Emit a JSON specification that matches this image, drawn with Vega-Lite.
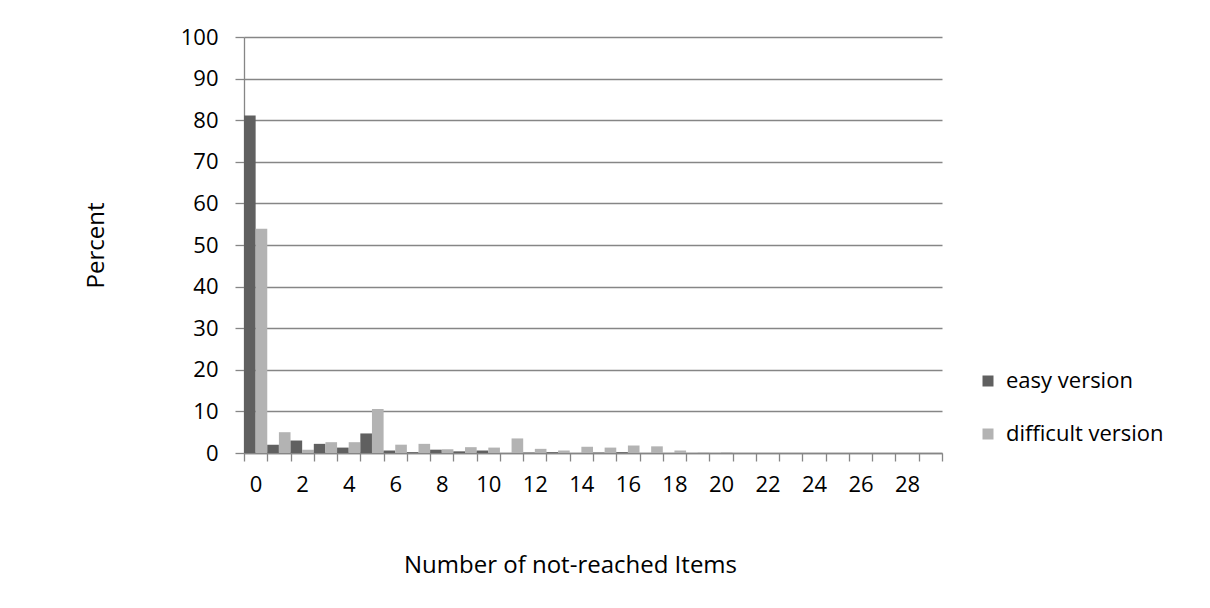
{
  "$schema": "https://vega.github.io/schema/vega-lite/v6.json",
  "width": 698,
  "height": 416,
  "autosize": "none",
  "padding": {"left": 244, "top": 37, "right": 268, "bottom": 155},
  "background": "white",
  "config": {
    "font": "Open Sans",
    "view": {"stroke": null}
  },
  "data": {
    "values": [
      {"n": 0, "version": "easy version", "pct": 81.1},
      {"n": 0, "version": "difficult version", "pct": 53.9},
      {"n": 1, "version": "easy version", "pct": 2.0},
      {"n": 1, "version": "difficult version", "pct": 5.0},
      {"n": 2, "version": "easy version", "pct": 3.0},
      {"n": 2, "version": "difficult version", "pct": 0.8},
      {"n": 3, "version": "easy version", "pct": 2.2},
      {"n": 3, "version": "difficult version", "pct": 2.6},
      {"n": 4, "version": "easy version", "pct": 1.3},
      {"n": 4, "version": "difficult version", "pct": 2.6},
      {"n": 5, "version": "easy version", "pct": 4.7},
      {"n": 5, "version": "difficult version", "pct": 10.6},
      {"n": 6, "version": "easy version", "pct": 0.6},
      {"n": 6, "version": "difficult version", "pct": 2.0},
      {"n": 7, "version": "easy version", "pct": 0.2},
      {"n": 7, "version": "difficult version", "pct": 2.2},
      {"n": 8, "version": "easy version", "pct": 0.8},
      {"n": 8, "version": "difficult version", "pct": 0.9},
      {"n": 9, "version": "easy version", "pct": 0.4},
      {"n": 9, "version": "difficult version", "pct": 1.4},
      {"n": 10, "version": "easy version", "pct": 0.6},
      {"n": 10, "version": "difficult version", "pct": 1.3},
      {"n": 11, "version": "easy version", "pct": 0},
      {"n": 11, "version": "difficult version", "pct": 3.5},
      {"n": 12, "version": "easy version", "pct": 0.1},
      {"n": 12, "version": "difficult version", "pct": 1.0},
      {"n": 13, "version": "easy version", "pct": 0.2},
      {"n": 13, "version": "difficult version", "pct": 0.6},
      {"n": 14, "version": "easy version", "pct": 0},
      {"n": 14, "version": "difficult version", "pct": 1.5},
      {"n": 15, "version": "easy version", "pct": 0.1},
      {"n": 15, "version": "difficult version", "pct": 1.3},
      {"n": 16, "version": "easy version", "pct": 0.2},
      {"n": 16, "version": "difficult version", "pct": 1.8},
      {"n": 17, "version": "easy version", "pct": 0},
      {"n": 17, "version": "difficult version", "pct": 1.6},
      {"n": 18, "version": "easy version", "pct": 0},
      {"n": 18, "version": "difficult version", "pct": 0.6},
      {"n": 19, "version": "easy version", "pct": 0},
      {"n": 19, "version": "difficult version", "pct": 0.1},
      {"n": 20, "version": "easy version", "pct": 0},
      {"n": 20, "version": "difficult version", "pct": 0.15},
      {"n": 21, "version": "easy version", "pct": 0},
      {"n": 21, "version": "difficult version", "pct": 0},
      {"n": 22, "version": "easy version", "pct": 0},
      {"n": 22, "version": "difficult version", "pct": 0},
      {"n": 23, "version": "easy version", "pct": 0},
      {"n": 23, "version": "difficult version", "pct": 0},
      {"n": 24, "version": "easy version", "pct": 0},
      {"n": 24, "version": "difficult version", "pct": 0},
      {"n": 25, "version": "easy version", "pct": 0},
      {"n": 25, "version": "difficult version", "pct": 0},
      {"n": 26, "version": "easy version", "pct": 0},
      {"n": 26, "version": "difficult version", "pct": 0},
      {"n": 27, "version": "easy version", "pct": 0},
      {"n": 27, "version": "difficult version", "pct": 0},
      {"n": 28, "version": "easy version", "pct": 0},
      {"n": 28, "version": "difficult version", "pct": 0},
      {"n": 29, "version": "easy version", "pct": 0},
      {"n": 29, "version": "difficult version", "pct": 0}
    ]
  },
  "mark": {"type": "bar"},
  "encoding": {
    "x": {
      "field": "n",
      "type": "ordinal",
      "sort": "ascending",
      "scale": {"paddingInner": 0, "paddingOuter": 0},
      "axis": {
        "title": "Number of not-reached Items",
        "titleFont": "Open Sans",
        "titleFontSize": 24,
        "titleFontWeight": "normal",
        "titleColor": "#000000",
        "titleX": 326,
        "titleY": 112,
        "titleBaseline": "middle",
        "titleAnchor": null,
        "titleAlign": "center",
        "labelAngle": 0,
        "labelFontSize": 22,
        "labelColor": "#000000",
        "labelPadding": 13,
        "labelExpr": "datum.value % 2 == 0 ? datum.label : ''",
        "tickBand": "extent",
        "tickSize": 8,
        "tickColor": "#868686",
        "tickWidth": 1.3,
        "domainColor": "#868686",
        "domainWidth": 1.3,
        "grid": false
      }
    },
    "xOffset": {
      "field": "version",
      "type": "nominal",
      "sort": ["easy version", "difficult version"],
      "scale": {"paddingInner": 0, "paddingOuter": 0}
    },
    "y": {
      "field": "pct",
      "type": "quantitative",
      "scale": {"domain": [0, 100], "nice": false},
      "axis": {
        "title": "Percent",
        "titleFont": "Open Sans",
        "titleFontSize": 24,
        "titleFontWeight": "normal",
        "titleColor": "#000000",
        "titleX": -148,
        "titleY": 208,
        "titleAngle": -90,
        "titleBaseline": "middle",
        "titleAlign": "center",
        "titleAnchor": null,
        "values": [0, 10, 20, 30, 40, 50, 60, 70, 80, 90, 100],
        "labelFontSize": 22,
        "labelColor": "#000000",
        "labelPadding": 17,
        "tickSize": 9,
        "tickColor": "#868686",
        "tickWidth": 1.3,
        "domainColor": "#868686",
        "domainWidth": 1.3,
        "grid": true,
        "gridColor": "#868686",
        "gridWidth": 1.3,
        "gridOpacity": 1
      }
    },
    "color": {
      "field": "version",
      "type": "nominal",
      "sort": ["easy version", "difficult version"],
      "scale": {"domain": ["easy version", "difficult version"], "range": ["#606060", "#b3b3b3"]},
      "legend": {
        "title": null,
        "orient": "none",
        "legendX": 733,
        "legendY": 333,
        "padding": 0,
        "symbolType": "square",
        "symbolSize": 121,
        "symbolStrokeWidth": 0,
        "labelFontSize": 22,
        "labelColor": "#000000",
        "labelOffset": 7,
        "rowPadding": 31
      }
    }
  }
}
